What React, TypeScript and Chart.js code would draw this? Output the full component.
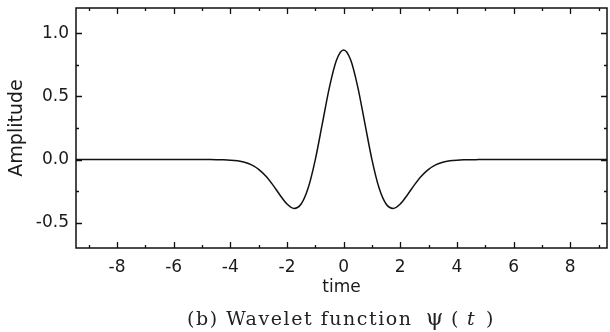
import React, { useEffect, useRef } from "react";
import { Chart, registerables } from "chart.js";

Chart.register(...registerables);

const timeValues = [
  -9.5, -7, -5.5, -5, -4.75, -4.5, -4.25, -4, -3.75, -3.5, -3.25, -3, -2.75, -2.5, -2.25, -2,
  -1.75, -1.5, -1.25, -1, -0.75, -0.5, -0.25, 0, 0.25, 0.5, 0.75, 1, 1.25, 1.5, 1.75, 2, 2.25,
  2.5, 2.75, 3, 3.25, 3.5, 3.75, 4, 4.25, 4.5, 4.75, 5, 5.5, 7, 9.5,
];
const amplitudeValues = [
  0, 0, 0, -0.0001, -0.0003, -0.0007, -0.0018, -0.0044, -0.01, -0.0213, -0.0422, -0.0771,
  -0.1297, -0.2001, -0.2803, -0.3521, -0.3869, -0.352, -0.2234, 0, 0.2864, 0.5741, 0.7881,
  0.8673, 0.7881, 0.5741, 0.2864, 0, -0.2234, -0.352, -0.3869, -0.3521, -0.2803, -0.2001,
  -0.1297, -0.0771, -0.0422, -0.0213, -0.01, -0.0044, -0.0018, -0.0007, -0.0003, -0.0001, 0, 0, 0,
];
const xTicks = [-8, -6, -4, -2, 0, 2, 4, 6, 8];
const xMinorTicks = [-9, -7, -5, -3, -1, 1, 3, 5, 7, 9];
const yTicks = [-0.5, 0, 0.5, 1.0];
const yMinorTicks = [-0.25, 0.25, 0.75];
const xTitle = "time";
const yTitle = "Amplitude";
const captionMain = "(b) Wavelet function";

const SANS = '"DejaVu Sans", "Liberation Sans", sans-serif';
const SERIF = '"DejaVu Serif", "Liberation Serif", serif';

const framePlugin = {
  id: "frame",
  afterDraw(chart: any) {
    const { ctx, chartArea: a, scales } = chart;
    const xs = scales.x;
    const ys = scales.y;
    ctx.save();
    ctx.strokeStyle = "#111";
    ctx.lineWidth = 1.5;
    ctx.strokeRect(a.left, a.top, a.right - a.left, a.bottom - a.top);
    ctx.lineWidth = 1.3;
    ctx.beginPath();
    const drawX = (vals: number[], len: number) => {
      vals.forEach((v) => {
        const px = Math.round(xs.getPixelForValue(v)) + 0.5;
        if (px < a.left || px > a.right) return;
        ctx.moveTo(px, a.bottom);
        ctx.lineTo(px, a.bottom - len);
        ctx.moveTo(px, a.top);
        ctx.lineTo(px, a.top + len);
      });
    };
    const drawY = (vals: number[], len: number) => {
      vals.forEach((v) => {
        const py = Math.round(ys.getPixelForValue(v)) + 0.5;
        ctx.moveTo(a.left, py);
        ctx.lineTo(a.left + len, py);
        ctx.moveTo(a.right, py);
        ctx.lineTo(a.right - len, py);
      });
    };
    drawX(xTicks, 6);
    drawX(xMinorTicks, 3);
    drawY(yTicks, 6);
    drawY(yMinorTicks, 3);
    ctx.stroke();

    // caption
    ctx.fillStyle = "#222";
    ctx.textBaseline = "alphabetic";
    ctx.textAlign = "left";
    ctx.font = `19px ${SERIF}`;
    (ctx as any).letterSpacing = "0px";
    const w = ctx.measureText(captionMain).width;
    const target = 224;
    const ls = (target - w) / (captionMain.length - 1);
    (ctx as any).letterSpacing = `${ls}px`;
    const baseY = 325;
    ctx.fillText(captionMain, 187, baseY);
    (ctx as any).letterSpacing = "0px";
    ctx.font = `22px ${SERIF}`;
    ctx.fillText("\u03c8", 426, baseY);
    ctx.font = `19px ${SERIF}`;
    ctx.fillText("(", 451, baseY);
    ctx.font = `italic 19px ${SERIF}`;
    ctx.fillText("t", 467, baseY);
    ctx.font = `19px ${SERIF}`;
    ctx.fillText(")", 486, baseY);
    ctx.restore();
  },
};

export default function App() {
  const ref = useRef<HTMLCanvasElement | null>(null);
  useEffect(() => {
    if (!ref.current) return;
    const chart = new Chart(ref.current, {
      type: "line",
      data: {
        datasets: [
          {
            data: timeValues.map((t, i) => ({ x: t, y: amplitudeValues[i] })),
            borderColor: "#111",
            borderWidth: 1.5,
            pointRadius: 0,
            fill: false,
            cubicInterpolationMode: "monotone",
          },
        ],
      },
      options: {
        responsive: false,
        animation: false,
        layout: { padding: { top: 8, right: 3, bottom: 34, left: 0 } },
        plugins: { legend: { display: false }, tooltip: { enabled: false }, title: { display: false } },
        scales: {
          x: {
            type: "linear",
            min: -9.45,
            max: 9.3,
            afterBuildTicks: (s: any) => {
              s.ticks = xTicks.map((v) => ({ value: v }));
            },
            afterFit: (s: any) => {
              s.height = 50;
              s.paddingLeft = 0;
              s.paddingRight = 0;
            },
            grid: { display: false, drawTicks: false },
            border: { display: false },
            ticks: {
              font: { family: SANS, size: 17 },
              color: "#1a1a1a",
              padding: 9,
              maxRotation: 0,
              autoSkip: false,
              callback: (v: any) => String(v),
            },
            title: {
              display: true,
              text: xTitle,
              font: { family: SANS, size: 17 },
              color: "#1a1a1a",
              padding: { top: 0, bottom: 0 },
            },
          },
          y: {
            type: "linear",
            min: -0.7,
            max: 1.2,
            afterBuildTicks: (s: any) => {
              s.ticks = yTicks.map((v) => ({ value: v }));
            },
            afterFit: (s: any) => {
              s.width = 76;
              s.paddingTop = 0;
              s.paddingBottom = 0;
            },
            grid: { display: false, drawTicks: false },
            border: { display: false },
            ticks: {
              font: { family: SANS, size: 17 },
              color: "#1a1a1a",
              padding: 7,
              autoSkip: false,
              callback: (v: any) => Number(v).toFixed(1),
            },
            title: {
              display: true,
              text: yTitle,
              font: { family: SANS, size: 19 },
              color: "#1a1a1a",
              padding: { top: 6, bottom: 0 },
            },
          },
        },
      },
      plugins: [framePlugin],
    });
    return () => chart.destroy();
  }, []);
  return (
    <div style={{ position: "absolute", left: 0, top: 0, width: 610, height: 332, background: "#fff" }}>
      <canvas ref={ref} width={610} height={332} />
    </div>
  );
}
